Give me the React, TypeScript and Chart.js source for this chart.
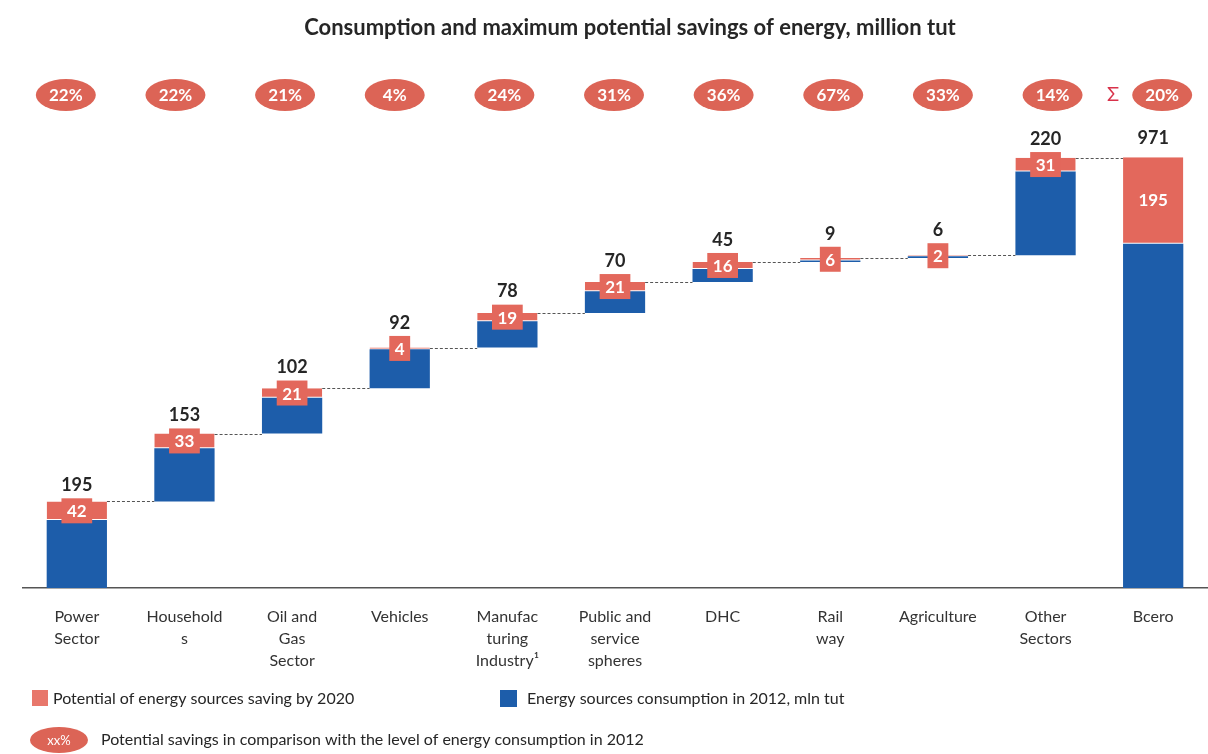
import React, { useEffect, useRef } from 'react';
import { Chart, registerables } from 'chart.js';

Chart.register(...registerables);

const categories: string[][] = [
  ['Power', 'Sector'],
  ['Household', 's'],
  ['Oil and', 'Gas', 'Sector'],
  ['Vehicles'],
  ['Manufac', 'turing', 'Industry¹'],
  ['Public and', 'service', 'spheres'],
  ['DHC'],
  ['Rail', 'way'],
  ['Agriculture'],
  ['Other', 'Sectors'],
  ['Bcero'],
];
const totals = [195, 153, 102, 92, 78, 70, 45, 9, 6, 220, 971];
const savings = [42, 33, 21, 4, 19, 21, 16, 6, 2, 31, 195];
const percents = ['22%', '22%', '21%', '4%', '24%', '31%', '36%', '67%', '33%', '14%', '20%'];

const title = 'Consumption and maximum potential savings of energy, million tut';
const legendSaving = 'Potential of energy sources saving by 2020';
const legendConsumption = 'Energy sources consumption in 2012, mln tut';
const legendPercent = 'Potential savings in comparison with the level of energy consumption in 2012';

const BLUE = '#1D5DAA';
const RED = '#E3685C';
const PILL = '#DC6456';
const DARK = '#262626';
const FONT = 'Lato, "Open Sans", sans-serif';

export default function App() {
  const ref = useRef<HTMLCanvasElement>(null);

  useEffect(() => {
    if (!ref.current) return;
    const n = totals.length;
    const bases = totals.map((_, i) =>
      i === n - 1 ? 0 : totals.slice(0, i).reduce((a, b) => a + b, 0)
    );
    const blueData = totals.map((t, i) => [bases[i], bases[i] + t - savings[i]]);
    const redData = totals.map((t, i) => [bases[i] + t - savings[i], bases[i] + t]);

    const deco = {
      id: 'deco',
      afterDatasetsDraw(chart: any) {
        const ctx = chart.ctx as CanvasRenderingContext2D;
        const xs = chart.scales.x;
        const ys = chart.scales.y;
        const meta = chart.getDatasetMeta(1);
        ctx.save();

        // connectors
        ctx.strokeStyle = '#555';
        ctx.lineWidth = 1;
        ctx.setLineDash([3, 2]);
        for (let i = 0; i < n - 1; i++) {
          const b0 = meta.data[i];
          const b1 = meta.data[i + 1];
          const y = Math.round(ys.getPixelForValue(bases[i] + totals[i])) + 0.5;
          ctx.beginPath();
          ctx.moveTo(b0.x + b0.width / 2, y);
          ctx.lineTo(b1.x - b1.width / 2, y);
          ctx.stroke();
        }
        ctx.setLineDash([]);

        // value labels
        ctx.textAlign = 'center';
        ctx.textBaseline = 'middle';
        for (let i = 0; i < n; i++) {
          const x = xs.getPixelForValue(i);
          const yTop = ys.getPixelForValue(redData[i][1]);
          const yRedMid = (ys.getPixelForValue(redData[i][0]) + yTop) / 2;
          let labelY: number;
          if (i < n - 1) {
            ctx.font = `bold 17px ${FONT}`;
            const tw = ctx.measureText(String(savings[i])).width;
            const bw = tw + 11;
            const bh = 25;
            ctx.fillStyle = RED;
            ctx.fillRect(x - bw / 2, yRedMid - bh / 2, bw, bh);
            ctx.fillStyle = '#fff';
            ctx.fillText(String(savings[i]), x, yRedMid + 1);
            labelY = Math.min(yTop, yRedMid - bh / 2) - 13;
          } else {
            ctx.font = `bold 17px ${FONT}`;
            ctx.fillStyle = '#fff';
            ctx.fillText(String(savings[i]), x, yRedMid);
            labelY = yTop - 19;
          }
          ctx.font = `bold 18px ${FONT}`;
          ctx.fillStyle = DARK;
          ctx.fillText(String(totals[i]), x, labelY);
        }
        ctx.restore();
      },
      afterDraw(chart: any) {
        const ctx = chart.ctx as CanvasRenderingContext2D;
        const xs = chart.scales.x;
        ctx.save();
        // title
        ctx.textAlign = 'center';
        ctx.textBaseline = 'middle';
        ctx.fillStyle = DARK;
        ctx.font = `bold 22px ${FONT}`;
        ctx.fillText(title, 630, 28);

        // percent pills
        const x0 = xs.getPixelForValue(0) - 11;
        const x1 = xs.getPixelForValue(n - 1) + 9;
        for (let i = 0; i < n; i++) {
          const cx = x0 + ((x1 - x0) * i) / (n - 1);
          ctx.fillStyle = PILL;
          ctx.beginPath();
          ctx.ellipse(cx, 95, 30, 16, 0, 0, Math.PI * 2);
          ctx.fill();
          ctx.fillStyle = '#fff';
          ctx.font = `bold 17px ${FONT}`;
          ctx.fillText(percents[i], cx, 96);
        }
        ctx.fillStyle = '#D8324A';
        ctx.font = `20px ${FONT}`;
        ctx.fillText('Σ', 1113, 95);

        // legend
        ctx.textAlign = 'left';
        ctx.fillStyle = '#E8776B';
        ctx.fillRect(32, 690, 16, 16);
        ctx.fillStyle = BLUE;
        ctx.fillRect(500, 690, 17, 17);
        ctx.fillStyle = DARK;
        ctx.font = `16px ${FONT}`;
        ctx.fillText(legendSaving, 53, 699);
        ctx.fillText(legendConsumption, 527, 699);
        ctx.fillText(legendPercent, 101, 740);
        ctx.fillStyle = PILL;
        ctx.beginPath();
        ctx.ellipse(59, 740, 29, 13, 0, 0, Math.PI * 2);
        ctx.fill();
        ctx.fillStyle = '#fff';
        ctx.textAlign = 'center';
        ctx.font = `13px ${FONT}`;
        ctx.fillText('xx%', 59, 741);
        ctx.restore();
      },
    };

    const chart = new Chart(ref.current, {
      type: 'bar',
      data: {
        labels: categories,
        datasets: [
          {
            label: legendConsumption,
            data: blueData as any,
            backgroundColor: BLUE,
            borderWidth: 0,
            grouped: false,
            barPercentage: 0.56,
            categoryPercentage: 1,
          } as any,
          {
            label: legendSaving,
            data: redData as any,
            backgroundColor: RED,
            borderColor: '#ffffff',
            borderWidth: { top: 0, left: 0, right: 0, bottom: 1 },
            borderSkipped: false,
            grouped: false,
            barPercentage: 0.56,
            categoryPercentage: 1,
          } as any,
        ],
      },
      options: {
        responsive: false,
        animation: false,
        layout: { padding: { left: 23, right: 1, top: 100, bottom: 0 } },
        plugins: {
          legend: { display: false },
          tooltip: { enabled: false },
          title: { display: false },
        },
        scales: {
          x: {
            grid: { display: false, drawTicks: false },
            border: { display: true, color: '#555', width: 1.5 },
            ticks: {
              color: '#333',
              font: { family: FONT, size: 16, lineHeight: 1.375 },
              padding: 18,
              maxRotation: 0,
              autoSkip: false,
            },
            afterFit: (scale: any) => {
              scale.height = 166;
            },
          },
          y: {
            display: false,
            min: 0,
            max: 1100,
          },
        },
      },
      plugins: [deco],
    });
    return () => chart.destroy();
  }, []);

  return (
    <div style={{ position: 'absolute', left: 0, top: 0, width: 1208, height: 754, background: '#fff' }}>
      <canvas ref={ref} width={1208} height={754} />
    </div>
  );
}
